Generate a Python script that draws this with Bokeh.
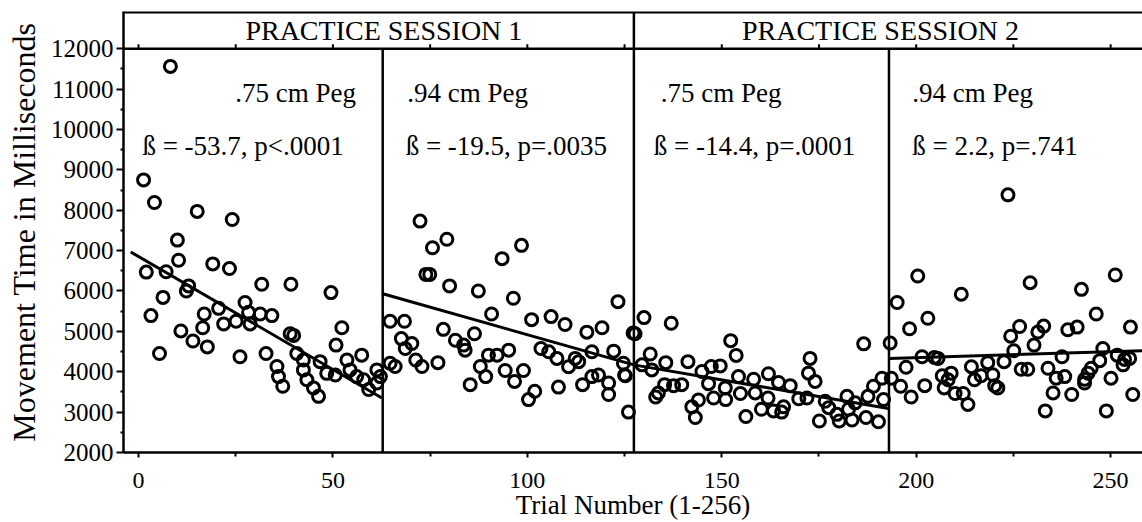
from bokeh.plotting import figure
from bokeh.models import FixedTicker, Span
from bokeh.core.properties import value
from bokeh.embed import file_html
from bokeh.resources import INLINE

FONT = "Liberation Serif"

# ---------------- data ----------------
p1_trial = [1.3, 4.1, 8.2, 10.0, 15.1, 24.1, 10.3, 19.1, 23.4, 2.0, 7.1, 12.9, 12.3, 31.7, 39.2,
            49.5, 6.3, 3.2, 20.6, 16.9, 27.4, 28.3, 21.9, 25.1, 28.7, 31.3, 34.3, 16.5, 10.9, 14.0,
            17.7, 5.4, 26.1, 32.8, 39.0, 39.9, 35.6, 36.0, 37.1, 40.7, 42.4, 42.4, 43.3, 45.0, 46.3,
            46.7, 48.4, 50.6, 50.8, 52.3, 53.6, 54.4, 57.4, 56.1, 57.9, 59.2, 61.3, 62.2, 61.3]
p1_ms = [8750, 8190, 11560, 7260, 7970, 7770, 6760, 6670, 6555, 6467, 6475, 6125, 6000, 6165, 6165,
         5960, 5840, 5390, 5570, 5430, 5715, 5470, 5185, 5250, 5185, 5430, 5390, 5090, 5010, 4760,
         4615, 4450, 4370, 4450, 4940, 4900, 4130, 3880, 3640, 4450, 4290, 4045, 3800, 3600, 3390,
         4250, 3960, 3920, 4660, 5090, 4290, 4045, 4410, 3880, 3800, 3560, 4045, 3880, 3720]

p2_trial = [72.4, 75.6, 79.3, 98.5, 93.5, 73.9, 74.9, 80.0, 87.4, 96.4, 123.3, 90.8, 64.7, 68.4,
            101.1, 106.1, 109.7, 115.3, 119.2, 78.4, 86.4, 67.6, 70.3, 68.6, 81.5, 83.6, 84.0,
            103.5, 105.5, 107.6, 112.3, 110.6, 113.2, 116.6, 122.2, 124.7, 125.2, 126.0, 64.7,
            66.0, 71.3, 72.9, 77.0, 90.0, 92.2, 95.2, 87.9, 89.3, 85.3, 94.3, 96.7, 99.0, 101.9,
            100.3, 108.0, 114.2, 116.6, 118.3, 120.9, 120.9, 125.0, 127.2, 127.7]
p2_ms = [7730, 7070, 7280, 7130, 6800, 6410, 6410, 6125, 6000, 5820, 5735, 5430, 5250, 5250,
         5290, 5365, 5170, 4980, 5090, 5050, 4940, 4820, 4700, 4575, 4780, 4660, 4535,
         4575, 4495, 4330, 4330, 4125, 4250, 4495, 4510, 4210, 3900, 3000, 4210,
         4130, 4290, 4130, 4225, 4410, 4410, 4535, 4130, 3880, 3680, 4030, 3760, 4030, 3515,
         3310, 3620, 3680, 3880, 3920, 3720, 3435, 3920, 4960, 4940]

p3_trial = [130.0, 137.0, 152.3, 153.7, 186.5, 131.6, 135.6, 141.3, 129.5, 132.0, 144.9, 147.3,
            149.6, 146.6, 150.9, 154.3, 158.2, 162.0, 164.6, 167.6, 172.7, 172.3, 174.0, 135.3,
            137.6, 139.7, 133.7, 133.0, 144.0, 142.3, 143.2, 147.9, 151.0, 154.8, 158.6, 161.9,
            160.2, 163.3, 165.9, 165.4, 156.2, 169.8, 171.9, 176.6, 177.5, 175.1, 179.6, 180.2,
            182.2, 182.6, 184.3, 183.5, 187.6, 187.1, 189.0, 191.2, 191.6, 190.3]
p3_ms = [5340, 5200, 4770, 4405, 4690, 4440, 4225, 4250, 4170, 4045, 4005, 4130,
         4145, 3705, 3600, 3880, 3815, 3950, 3735, 3655, 4330, 3965, 3760, 3680,
         3655, 3680, 3475, 3375, 3300, 3130, 2865, 3350, 3310, 3460, 3475, 3350,
         3070, 3030, 3130, 3000, 2890, 3330, 3350, 3270, 3110, 2780, 2945, 2780,
         3390, 3070, 3230, 2805, 3390, 2865, 3640, 3840, 3310, 2760]

p4_trial = [193.3, 223.6, 200.4, 229.3, 251.2, 211.6, 242.5, 195.1, 203.0, 198.3, 246.3, 255.1,
            226.6, 224.3, 232.8, 231.3, 230.3, 239.0, 241.4, 225.1, 248.0, 201.5, 204.7, 205.6,
            237.5, 251.7, 253.6, 254.9, 247.2, 253.2, 197.4, 193.6, 196.0, 198.7, 202.2, 206.7,
            209.0, 208.2, 207.2, 210.0, 212.1, 213.3, 214.2, 215.0, 216.7, 218.4, 219.7, 220.2,
            221.0, 222.6, 227.0, 228.7, 233.9, 236.0, 238.2, 235.2, 233.2, 240.0, 243.3, 244.2,
            245.0, 243.3, 250.1, 248.9, 255.7]
p4_ms = [4710, 8380, 6370, 6205, 6395, 5920, 6040, 5715, 5325, 5065, 5430, 5105,
         5120, 4880, 5130, 4985, 4660, 5040, 5105, 4520, 4575, 4370, 4355, 4330,
         4370, 4410, 4305, 4330, 4275, 4170, 4110, 3840, 3640, 3375, 3655, 3900,
         3965, 3800, 3600, 3460, 3460, 3190, 4125, 3800, 3900, 4225, 3925, 3655,
         3600, 4250, 4060, 4060, 4085, 3840, 3880, 3475, 3030, 3435, 3815, 3965,
         4085, 3720, 3840, 3030, 3435]

# regression lines (start/end)
reg_trial = [[-2.0, 62.6], [62.6, 127.4], [127.4, 192.9], [193.1, 258.2]]
reg_ms = [[6965, 3350], [5937, 4170], [4170, 3090], [4330, 4520]]

# panel boundaries (trial number) and how high each divider reaches
div_trial = [62.8, 127.4, 193.0]
div_top = [12000, 12900, 12000]

session_labels = ["PRACTICE SESSION 1", "PRACTICE SESSION 2"]
session_x = [63.1, 190.8]

peg_labels = [".75 cm Peg", ".94 cm Peg", ".75 cm Peg", ".94 cm Peg"]
peg_x = [24.9, 69.1, 134.3, 199.0]
stat_labels = ["ß = -53.7, p<.0001", "ß = -19.5, p=.0035", "ß = -14.4, p=.0001", "ß = 2.2, p=.741"]
stat_x = [1.0, 68.7, 132.5, 199.0]

y_ticks = [2000, 3000, 4000, 5000, 6000, 7000, 8000, 9000, 10000, 11000, 12000]
y_minor = [2500, 3500, 4500, 5500, 6500, 7500, 8500, 9500, 10500, 11500]
x_ticks = [0, 50, 100, 150, 200, 250]
x_minor = [25, 75, 125, 175, 225]
top_ticks = [0, 25, 50, 75, 100, 125, 150, 175, 200, 225, 250]

x_title = "Trial Number (1-256)"
y_title = "Movement Time in Milliseconds"

Y_TOP = 12900  # top of header band
Y_BAND = 12000

# ---------------- figure ----------------
p = figure(width=1142, height=522, x_range=(-3.86, 258.2), y_range=(2000, 12920),
           output_backend="svg", toolbar_location=None,
           min_border_left=123, min_border_right=0, min_border_top=11, min_border_bottom=65)
p.outline_line_color = None
p.grid.visible = False
p.background_fill_color = "white"
p.border_fill_color = "white"

xa = p.xaxis[0]
xa.ticker = FixedTicker(ticks=x_ticks, minor_ticks=x_minor)
xa.axis_label = x_title
xa.axis_label_text_font = FONT
xa.axis_label_text_font_size = "27px"
xa.axis_label_text_font_style = "normal"
xa.axis_label_text_color = "black"
xa.axis_label_standoff = -1
xa.major_label_text_font = FONT
xa.major_label_text_font_size = "24px"
xa.major_label_text_color = "black"
xa.major_label_standoff = 15
xa.axis_line_width = 2.5
xa.major_tick_in = 0
xa.major_tick_out = 5
xa.minor_tick_in = 0
xa.minor_tick_out = 4
xa.major_tick_line_width = 2
xa.minor_tick_line_width = 2

ya = p.yaxis[0]
ya.ticker = FixedTicker(ticks=y_ticks, minor_ticks=y_minor)
ya.axis_label = y_title
ya.axis_label_text_font = FONT
ya.axis_label_text_font_size = "32px"
ya.axis_label_text_font_style = "normal"
ya.axis_label_text_color = "black"
ya.axis_label_standoff = 6
ya.major_label_text_font = FONT
ya.major_label_text_font_size = "25px"
ya.major_label_text_color = "black"
ya.major_label_standoff = 3
ya.axis_line_width = 2.5
ya.major_tick_in = 0
ya.major_tick_out = 7
ya.minor_tick_in = 0
ya.minor_tick_out = 3
ya.major_tick_line_width = 2
ya.minor_tick_line_width = 2

# header band lines
p.add_layout(Span(location=Y_BAND, dimension="width", line_color="black", line_width=2.5))
p.add_layout(Span(location=Y_TOP, dimension="width", line_color="black", line_width=2.5))
p.segment(x0=top_ticks, y0=[Y_BAND] * len(top_ticks), x1=top_ticks, y1=[Y_BAND + 110] * len(top_ticks),
          line_color="black", line_width=2)

# panel dividers
p.segment(x0=div_trial, y0=[2000] * len(div_trial), x1=div_trial, y1=div_top,
          line_color="black", line_width=2.5)

# data points
for tx, ms in [(p1_trial, p1_ms), (p2_trial, p2_ms), (p3_trial, p3_ms), (p4_trial, p4_ms)]:
    p.scatter(tx, ms, marker="circle", size=12, fill_color=None, line_color="black", line_width=3)

# regression lines
p.multi_line(xs=reg_trial, ys=reg_ms, line_color="black", line_width=3)

# texts
p.text(x=session_x, y=[12450] * 2, text=session_labels, text_font=value(FONT),
       text_font_size="28px", text_align="center", text_baseline="middle", text_color="black")
p.text(x=peg_x, y=[10900] * 4, text=peg_labels, text_font=value(FONT),
       text_font_size="27px", text_align="left", text_baseline="middle", text_color="black")
p.text(x=stat_x, y=[9600] * 4, text=stat_labels, text_font=value(FONT),
       text_font_size="27px", text_align="left", text_baseline="middle", text_color="black")

open("out.html", "w").write(file_html(p, INLINE))
